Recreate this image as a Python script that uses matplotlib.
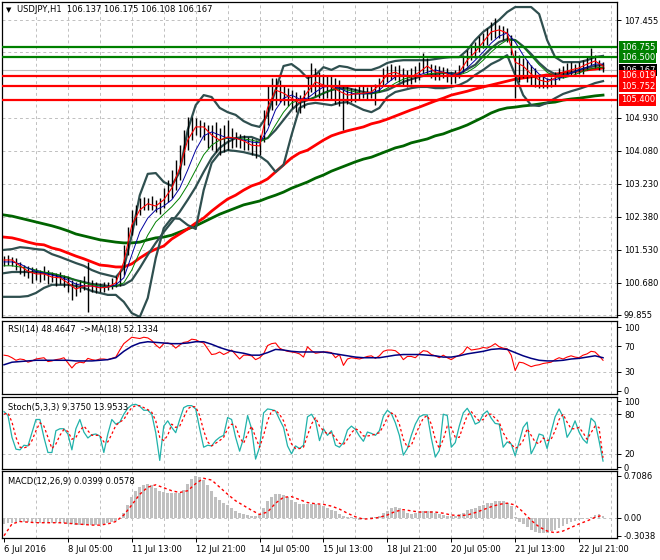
import numpy as np
import matplotlib
matplotlib.use("Agg")
import matplotlib.pyplot as plt
import matplotlib.transforms as mtransforms

# ---- price bars, one every 2 hours ----
bar_hi = [101.37, 101.40, 101.35, 101.32, 101.22, 101.14, 101.11, 101.09, 101.06, 101.01,
          101.11, 101.01, 100.96, 100.93, 100.96, 100.88, 100.86, 100.75, 100.70, 100.75,
          100.86, 101.22, 100.75, 100.70, 100.68, 100.70, 100.70, 100.81, 100.86, 101.01,
          101.66, 102.11, 102.56, 102.69, 102.87, 102.89, 102.87, 102.92, 102.82, 102.87,
          103.12, 103.33, 103.59, 103.85, 104.23, 104.62, 104.95, 104.95, 104.93, 104.88,
          104.83, 104.75, 104.75, 104.83, 104.67, 104.75, 104.88, 104.67, 104.57, 104.52,
          104.49, 104.44, 104.41, 104.36, 104.49, 105.14, 105.78, 105.96, 105.96, 105.91,
          105.78, 105.70, 105.65, 105.60, 105.52, 105.65, 106.04, 106.35, 106.22, 106.11,
          106.06, 106.04, 106.01, 105.96, 105.91, 105.78, 105.75, 105.70, 105.70, 105.75,
          105.75, 105.73, 105.75, 105.80, 105.96, 106.22, 106.27, 106.32, 106.27, 106.30,
          106.22, 106.17, 106.22, 106.27, 106.37, 106.60, 106.48, 106.32, 106.30, 106.27,
          106.24, 106.22, 106.11, 106.17, 106.30, 106.55, 106.68, 106.81, 106.89, 107.04,
          107.12, 107.25, 107.40, 107.51, 107.33, 107.30, 107.25, 107.07, 106.68, 106.55,
          106.48, 106.42, 106.30, 106.22, 106.04, 106.01, 105.96, 105.99, 106.11, 106.22,
          106.27, 106.35, 106.37, 106.32, 106.37, 106.42, 106.53, 106.73, 106.55, 106.42,
          106.37]
bar_lo = [101.11, 101.14, 101.11, 101.01, 100.91, 100.86, 100.81, 100.68, 100.75, 100.70,
          100.75, 100.65, 100.70, 100.60, 100.65, 100.57, 100.45, 100.24, 100.34, 100.45,
          100.50, 99.93, 100.45, 100.42, 100.45, 100.45, 100.50, 100.52, 100.57, 100.60,
          100.88, 101.40, 101.91, 102.17, 102.43, 102.56, 102.56, 102.56, 102.51, 102.46,
          102.61, 102.76, 102.87, 103.07, 103.33, 103.72, 104.10, 104.36, 104.49, 104.44,
          104.36, 104.16, 104.10, 104.05, 103.98, 104.05, 104.10, 104.16, 104.18, 104.16,
          104.10, 104.10, 103.98, 103.90, 103.98, 104.31, 104.75, 105.14, 105.26, 105.34,
          105.26, 105.24, 105.19, 105.08, 105.06, 105.19, 105.39, 105.60, 105.50, 105.44,
          105.39, 105.44, 105.39, 105.29, 105.24, 104.62, 105.29, 105.34, 105.34, 105.39,
          105.44, 105.39, 105.44, 105.26, 105.60, 105.78, 105.86, 105.91, 105.91, 105.86,
          105.75, 105.73, 105.80, 105.86, 105.91, 106.09, 106.01, 105.96, 105.91, 105.91,
          105.96, 105.86, 105.80, 105.83, 105.96, 106.11, 106.27, 106.42, 106.48, 106.63,
          106.73, 106.81, 106.94, 106.99, 106.99, 106.94, 106.89, 106.55, 105.44, 105.86,
          105.96, 105.86, 105.78, 105.73, 105.70, 105.70, 105.70, 105.73, 105.78, 105.91,
          105.96, 106.01, 106.04, 106.01, 106.06, 106.06, 106.17, 106.30, 106.22, 106.17,
          106.11]

# ---- main chart indicator lines, one value every 4 hours ----
ma_fast = [101.27, 101.27, 101.12, 100.98, 100.91, 100.91, 100.83, 100.81, 100.68, 100.52,
           100.60, 100.60, 100.55, 100.57, 100.68, 101.22, 102.17, 102.56, 102.72, 102.66,
           102.82, 103.12, 103.64, 104.36, 104.70, 104.70, 104.49, 104.36, 104.44, 104.41,
           104.34, 104.23, 104.21, 105.19, 105.65, 105.57, 105.44, 105.32, 105.60, 105.86,
           105.78, 105.73, 105.62, 105.52, 105.55, 105.57, 105.60, 105.78, 106.06, 106.11,
           106.01, 105.99, 106.11, 106.27, 106.11, 106.11, 106.01, 106.11, 106.42, 106.63,
           106.89, 107.15, 107.20, 107.12, 106.37, 106.27, 106.06, 105.91, 105.86, 105.96,
           106.11, 106.17, 106.22, 106.32, 106.40, 106.27]
ma_mid = [101.22, 101.22, 101.17, 101.06, 100.98, 100.93, 100.88, 100.83, 100.75, 100.65,
          100.60, 100.60, 100.57, 100.57, 100.63, 100.81, 101.40, 101.99, 102.35, 102.56,
          102.66, 102.82, 103.12, 103.59, 104.10, 104.47, 104.57, 104.49, 104.41, 104.41,
          104.36, 104.31, 104.29, 104.62, 105.14, 105.44, 105.52, 105.42, 105.44, 105.60,
          105.73, 105.75, 105.70, 105.60, 105.55, 105.55, 105.57, 105.65, 105.83, 105.99,
          106.04, 106.01, 106.04, 106.11, 106.17, 106.11, 106.06, 106.06, 106.22, 106.42,
          106.63, 106.86, 107.04, 107.12, 106.89, 106.55, 106.27, 106.06, 105.93, 105.91,
          105.99, 106.09, 106.17, 106.24, 106.32, 106.32]
ma_slow = [101.12, 101.12, 101.09, 101.06, 101.01, 100.96, 100.93, 100.88, 100.83, 100.75,
           100.68, 100.63, 100.60, 100.57, 100.60, 100.68, 101.01, 101.48, 101.91, 102.25,
           102.45, 102.64, 102.87, 103.20, 103.59, 103.98, 104.23, 104.36, 104.41, 104.41,
           104.39, 104.36, 104.31, 104.41, 104.75, 105.08, 105.32, 105.39, 105.39, 105.47,
           105.57, 105.65, 105.68, 105.65, 105.60, 105.55, 105.55, 105.60, 105.70, 105.83,
           105.93, 105.99, 106.01, 106.06, 106.09, 106.09, 106.06, 106.04, 106.11, 106.24,
           106.42, 106.63, 106.81, 106.94, 106.94, 106.76, 106.53, 106.30, 106.11, 105.99,
           105.96, 106.01, 106.09, 106.17, 106.22, 106.24]
bb_mid = [100.93, 100.96, 100.96, 100.96, 100.96, 100.93, 100.91, 100.86, 100.81, 100.75,
          100.70, 100.65, 100.63, 100.60, 100.60, 100.63, 100.75, 101.06, 101.40, 101.71,
          101.99, 102.25, 102.51, 102.82, 103.15, 103.54, 103.90, 104.16, 104.31, 104.41,
          104.44, 104.44, 104.36, 104.41, 104.62, 104.88, 105.14, 105.32, 105.39, 105.47,
          105.57, 105.65, 105.70, 105.70, 105.65, 105.60, 105.57, 105.60, 105.65, 105.75,
          105.86, 105.93, 105.99, 106.04, 106.06, 106.09, 106.09, 106.06, 106.19, 106.30,
          106.53, 106.73, 106.89, 106.96, 106.94, 106.78, 106.58, 106.35, 106.17, 106.06,
          106.04, 106.09, 106.17, 106.22, 106.27, 106.30]
bb_up = [101.53, 101.55, 101.60, 101.58, 101.55, 101.53, 101.42, 101.35, 101.27, 101.19,
         101.12, 101.01, 100.93, 100.88, 100.83, 101.06, 101.91, 102.94, 103.49, 103.51,
         103.28, 103.18, 103.54, 104.62, 105.26, 105.52, 105.47, 105.19, 105.08, 105.01,
         104.85, 104.75, 104.70, 105.01, 105.65, 106.27, 106.32, 106.17, 105.96, 106.04,
         106.24, 106.17, 106.27, 106.24, 106.17, 106.17, 106.17, 106.24, 106.35, 106.40,
         106.42, 106.42, 106.42, 106.42, 106.45, 106.48, 106.50, 106.50, 106.68, 106.94,
         107.15, 107.30, 107.46, 107.66, 107.79, 107.79, 107.79, 107.61, 106.94, 106.50,
         106.37, 106.37, 106.37, 106.42, 106.50, 106.53]
bb_low = [100.32, 100.32, 100.32, 100.34, 100.42, 100.55, 100.63, 100.63, 100.63, 100.60,
          100.55, 100.47, 100.42, 100.37, 100.37, 100.19, 99.90, 99.80, 100.29, 101.32,
          102.09, 102.35, 102.33, 102.17, 102.07, 103.07, 103.77, 104.03, 104.10, 104.08,
          104.05, 104.00, 103.95, 103.80, 103.54, 103.72, 104.49, 105.19, 105.29, 105.32,
          105.29, 105.26, 105.32, 105.34, 105.24, 105.14, 105.08, 105.19, 105.47, 105.60,
          105.65, 105.70, 105.73, 105.73, 105.70, 105.70, 105.73, 105.78, 105.88, 106.04,
          106.17, 106.32, 106.42, 106.55, 106.04, 105.52, 105.26, 105.24, 105.32, 105.44,
          105.55, 105.62, 105.68, 105.75, 105.83, 105.88]
ma_long_red = [101.86, 101.84, 101.79, 101.73, 101.68, 101.66, 101.58, 101.53, 101.45, 101.37,
               101.30, 101.22, 101.14, 101.12, 101.09, 101.09, 101.17, 101.32, 101.45, 101.55,
               101.63, 101.81, 101.94, 102.07, 102.22, 102.35, 102.53, 102.69, 102.84, 102.94,
               103.07, 103.18, 103.25, 103.36, 103.54, 103.72, 103.90, 104.03, 104.10, 104.23,
               104.36, 104.47, 104.54, 104.60, 104.65, 104.70, 104.78, 104.83, 104.90, 104.98,
               105.06, 105.14, 105.21, 105.29, 105.37, 105.44, 105.52, 105.57, 105.62, 105.68,
               105.73, 105.78, 105.83, 105.88, 105.93, 105.96, 105.99, 106.01, 106.04, 106.06,
               106.09, 106.11, 106.14, 106.17, 106.19, 106.22]
ma_long_green = [102.43, 102.40, 102.35, 102.30, 102.25, 102.20, 102.15, 102.09, 102.02, 101.94,
                 101.89, 101.84, 101.79, 101.76, 101.73, 101.71, 101.71, 101.73, 101.79, 101.84,
                 101.86, 101.91, 101.99, 102.07, 102.15, 102.25, 102.35, 102.45, 102.53, 102.61,
                 102.69, 102.74, 102.79, 102.87, 102.94, 103.02, 103.12, 103.20, 103.28, 103.38,
                 103.46, 103.56, 103.64, 103.72, 103.80, 103.87, 103.92, 104.00, 104.08, 104.16,
                 104.21, 104.29, 104.34, 104.39, 104.47, 104.52, 104.60, 104.67, 104.75, 104.85,
                 104.95, 105.06, 105.14, 105.19, 105.21, 105.24, 105.26, 105.29, 105.32, 105.34,
                 105.39, 105.42, 105.44, 105.47, 105.50, 105.52]

levels_green = [106.755, 106.500]
levels_red = [106.019, 105.752, 105.400]
last_price = 106.167

# ---- oscillators ----
rsi = [56, 55, 52, 48, 50, 49, 45, 47, 50, 51,
       52, 46, 47, 49, 50, 52, 44, 36, 43, 45,
       44, 51, 49, 48, 50, 50, 49, 51, 53, 64,
       74, 79, 84, 83, 82, 84, 83, 79, 72, 67,
       74, 75, 73, 67, 72, 76, 77, 81, 80, 77,
       75, 66, 57, 58, 61, 57, 60, 64, 57, 50,
       56, 56, 55, 49, 52, 58, 71, 74, 75, 67,
       64, 62, 61, 60, 58, 53, 69, 63, 59, 60,
       61, 61, 60, 52, 57, 40, 50, 52, 51, 50,
       52, 54, 55, 51, 55, 62, 64, 64, 63, 58,
       49, 54, 54, 52, 58, 63, 62, 57, 55, 52,
       56, 52, 49, 53, 56, 60, 69, 64, 65, 66,
       68, 67, 70, 74, 69, 67, 66, 56, 32, 45,
       44, 41, 38, 40, 41, 43, 44, 45, 49, 52,
       50, 53, 55, 53, 52, 56, 58, 62, 61, 55,
       48]
rsi_ma = [41, 45, 46, 47, 48, 48, 48, 48, 48, 47,
          47, 47, 48, 49, 52, 62, 70, 75, 77, 76,
          75, 74, 74, 75, 77, 77, 73, 68, 64, 61,
          59, 56, 56, 60, 65, 64, 62, 61, 61, 61,
          61, 59, 57, 55, 53, 52, 52, 52, 54, 56,
          57, 57, 57, 56, 55, 53, 53, 55, 58, 60,
          62, 65, 66, 65, 60, 55, 51, 48, 47, 47,
          48, 50, 51, 53, 55, 52]
stoch_k = [84, 78, 45, 27, 26, 33, 32, 52, 72, 72,
           45, 22, 22, 55, 58, 58, 50, 26, 58, 72,
           53, 44, 49, 50, 47, 22, 50, 72, 65, 68,
           80, 89, 94, 95, 92, 86, 86, 80, 52, 10,
           62, 70, 60, 52, 72, 90, 93, 93, 88, 58,
           30, 33, 32, 40, 45, 48, 75, 72, 45, 24,
           44, 78, 58, 12, 30, 82, 88, 87, 85, 72,
           60, 32, 20, 32, 28, 33, 76, 80, 70, 40,
           58, 48, 55, 33, 30, 37, 56, 62, 57, 47,
           39, 53, 51, 48, 55, 77, 86, 81, 67, 48,
           18, 28, 48, 65, 76, 79, 79, 44, 15, 25,
           80, 78, 30, 37, 62, 82, 89, 79, 65, 68,
           80, 85, 74, 66, 65, 30, 38, 35, 17, 38,
           60, 68, 20, 32, 50, 48, 28, 53, 76, 88,
           76, 45, 55, 70, 53, 42, 36, 74, 68, 40,
           9]
stoch_d = [80, 82, 68, 45, 30, 29, 31, 40, 55, 67,
           62, 45, 28, 35, 48, 57, 54, 42, 45, 55,
           62, 55, 48, 48, 48, 38, 38, 50, 63, 68,
           72, 82, 90, 93, 93, 90, 87, 83, 70, 45,
           40, 48, 65, 60, 62, 75, 88, 92, 91, 78,
           55, 38, 32, 36, 40, 45, 58, 65, 62, 45,
           36, 50, 62, 45, 30, 48, 70, 85, 86, 80,
           70, 52, 35, 28, 28, 30, 48, 65, 75, 62,
           55, 50, 52, 44, 36, 34, 42, 52, 58, 55,
           47, 47, 48, 50, 52, 62, 75, 82, 78, 65,
           42, 30, 33, 48, 62, 74, 78, 65, 42, 28,
           42, 62, 60, 45, 45, 62, 78, 84, 76, 70,
           72, 80, 80, 74, 68, 52, 42, 35, 28, 32,
           40, 58, 48, 38, 35, 44, 40, 42, 55, 72,
           80, 68, 58, 58, 60, 52, 42, 52, 62, 60,
           14]
macd_hist = [-0.10, -0.09, -0.08, -0.07, -0.07, -0.07, -0.07, -0.08, -0.08, -0.08,
             -0.08, -0.08, -0.08, -0.08, -0.09, -0.09, -0.10, -0.11, -0.12, -0.12,
             -0.12, -0.11, -0.12, -0.12, -0.11, -0.10, -0.08, -0.07, -0.05, 0.00,
             0.08, 0.22, 0.35, 0.45, 0.52, 0.56, 0.57, 0.55, 0.50, 0.46,
             0.44, 0.43, 0.42, 0.42, 0.43, 0.48, 0.57, 0.66, 0.71, 0.70,
             0.64, 0.55, 0.45, 0.36, 0.30, 0.25, 0.22, 0.17, 0.12, 0.09,
             0.07, 0.05, 0.04, 0.03, 0.06, 0.16, 0.28, 0.36, 0.40, 0.41,
             0.39, 0.35, 0.30, 0.27, 0.24, 0.23, 0.24, 0.24, 0.23, 0.22,
             0.21, 0.17, 0.14, 0.11, 0.07, 0.04, 0.02, 0.01, -0.01, -0.03,
             -0.02, 0.00, 0.01, 0.02, 0.04, 0.08, 0.12, 0.16, 0.18, 0.16,
             0.12, 0.08, 0.06, 0.08, 0.11, 0.12, 0.12, 0.11, 0.09, 0.07,
             0.05, 0.04, 0.03, 0.04, 0.06, 0.09, 0.13, 0.15, 0.17, 0.20,
             0.22, 0.25, 0.26, 0.28, 0.29, 0.29, 0.26, 0.20, 0.02, -0.07,
             -0.11, -0.16, -0.20, -0.24, -0.26, -0.26, -0.25, -0.22, -0.20, -0.17,
             -0.13, -0.10, -0.07, -0.05, -0.04, -0.02, -0.01, 0.02, 0.05, 0.06,
             0.04]
macd_sig = [-0.30, -0.10, -0.06, -0.07, -0.08, -0.08, -0.08, -0.08, -0.09, -0.10,
            -0.11, -0.12, -0.12, -0.10, -0.06, 0.05, 0.22, 0.40, 0.52, 0.56,
            0.51, 0.46, 0.43, 0.46, 0.58, 0.67, 0.64, 0.52, 0.40, 0.29,
            0.21, 0.13, 0.06, 0.10, 0.25, 0.35, 0.36, 0.31, 0.26, 0.24,
            0.23, 0.20, 0.15, 0.08, 0.02, -0.02, -0.01, 0.01, 0.05, 0.11,
            0.14, 0.12, 0.10, 0.10, 0.10, 0.08, 0.05, 0.04, 0.05, 0.09,
            0.14, 0.19, 0.23, 0.25, 0.22, 0.10, -0.04, -0.15, -0.22, -0.25,
            -0.22, -0.16, -0.10, -0.05, 0.01, 0.05]

date_labels = ["6 Jul 2016", "8 Jul 05:00", "11 Jul 13:00", "12 Jul 21:00", "14 Jul 05:00",
               "15 Jul 13:00", "18 Jul 21:00", "20 Jul 05:00", "21 Jul 13:00", "22 Jul 21:00"]
date_pos = [0, 32, 64, 96, 128, 160, 192, 224, 256, 288]
price_ticks = [107.455, 104.930, 104.080, 103.230, 102.380, 101.530, 100.680, 99.855]
price_grid = [107.455, 106.630, 105.780, 104.930, 104.080, 103.230, 102.380, 101.530, 100.680, 99.855]

t_bar = np.arange(len(bar_hi)) * 2
t_line = np.arange(len(ma_fast)) * 4
t_osc = np.arange(len(rsi)) * 2
t_slow = np.arange(len(rsi_ma)) * 4

W, H = 660, 560
fig = plt.figure(figsize=(6.6, 5.6), dpi=100)
fig.patch.set_facecolor("white")


def panel(top, bottom):
    return fig.add_axes([2 / W, 1 - bottom / H, 615 / W, (bottom - top) / H])


ax = panel(2, 317)
ax_rsi = panel(321, 394)
ax_st = panel(397, 469)
ax_md = panel(471, 538)

grid_kw = dict(color="#c0c0c0", lw=0.7, ls=(0, (3, 3)), zorder=0)
for a in (ax, ax_rsi, ax_st, ax_md):
    a.set_xlim(-1, 307)
    for g in range(16, 307, 16):
        a.axvline(g, **grid_kw)
    for s in a.spines.values():
        s.set_color("black")
        s.set_linewidth(0.9)
    a.yaxis.tick_right()
    a.tick_params(axis="y", length=3, width=0.7, labelsize=6, pad=2, colors="black")
    a.set_xticks([])

# ---- main chart ----
ax.set_ylim(99.80, 107.92)
for g in price_grid:
    ax.axhline(g, **grid_kw)
ax.axhline(last_price, color="#c0c0c0", lw=0.8, zorder=1)
ax.plot(t_line, ma_long_green, color="#006400", lw=2.0, zorder=2)
ax.plot(t_line, ma_long_red, color="#ff0000", lw=2.0, zorder=2)
for band in (bb_up, bb_mid, bb_low):
    ax.plot(t_line, band, color="#2f4f4f", lw=1.6, zorder=3)
ax.vlines(t_bar, bar_lo, bar_hi, color="black", lw=1.0, zorder=4)
ax.plot(t_line, ma_slow, color="#008000", lw=0.7, zorder=5)
ax.plot(t_line, ma_mid, color="#0000a0", lw=0.7, zorder=5)
ax.plot(t_line, ma_fast, color="#ff0000", lw=0.8, zorder=5)
for lv in levels_green:
    ax.axhline(lv, color="#008000", lw=1.6, zorder=6)
for lv in levels_red:
    ax.axhline(lv, color="#ff0000", lw=1.6, zorder=6)
ax.set_yticks(price_ticks)
ax.set_yticklabels([f"{v:.3f}" for v in price_ticks])

# price boxes on the right scale (the last-price box sits partly under the 106.019 box)
trans = mtransforms.blended_transform_factory(ax.transAxes, ax.transData)
box_kw = dict(transform=trans, fontsize=6, va="center", ha="left", color="white", clip_on=False)
ax.text(1.006, last_price, f"{last_price:.3f}", zorder=7,
        bbox=dict(boxstyle="square,pad=0.18", fc="black", ec="none"), **box_kw)
for lv in levels_green:
    ax.text(1.006, lv, f"{lv:.3f}", zorder=8,
            bbox=dict(boxstyle="square,pad=0.18", fc="#008000", ec="none"), **box_kw)
for lv in levels_red:
    ax.text(1.006, lv, f"{lv:.3f}", zorder=8,
            bbox=dict(boxstyle="square,pad=0.18", fc="#ff0000", ec="none"), **box_kw)

fig.text(6 / W, 1 - 10 / H, "\u25bc", fontsize=5, va="center", color="black")
fig.text(17 / W, 1 - 10 / H, "USDJPY,H1  106.137 106.175 106.108 106.167", fontsize=6,
         va="center", color="black")

# ---- RSI ----
ax_rsi.set_ylim(-4.7, 109.4)
for g in (70, 30):
    ax_rsi.axhline(g, **grid_kw)
ax_rsi.plot(t_osc, rsi, color="#ff0000", lw=0.8, zorder=3)
ax_rsi.plot(t_slow, rsi_ma, color="#000080", lw=1.1, zorder=4)
ax_rsi.set_yticks([100, 70, 30, 0])
ax_rsi.text(0.01, 0.88, "RSI(14) 48.4647  ->MA(18) 52.1334", transform=ax_rsi.transAxes,
            fontsize=6, va="center", zorder=6)

# ---- Stochastic ----
ax_st.set_ylim(-3.0, 106.1)
for g in (80, 20):
    ax_st.axhline(g, **grid_kw)
ax_st.plot(t_osc, stoch_k, color="#20b2aa", lw=0.9, zorder=3)
ax_st.plot(t_osc, stoch_d, color="#ff0000", lw=0.9, ls=(0, (2, 2)), zorder=4)
ax_st.set_yticks([100, 80, 20, 0])
ax_st.text(0.01, 0.85, "Stoch(5,3,3) 9.3750 13.9533", transform=ax_st.transAxes,
           fontsize=6, va="center", zorder=6)

# ---- MACD ----
ax_md.set_ylim(-0.338, 0.793)
ax_md.axhline(0, **grid_kw)
ax_md.bar(t_osc, macd_hist, width=1.4, color="#c0c0c0", zorder=2)
ax_md.plot(t_slow, macd_sig, color="#ff0000", lw=1.0, ls=(0, (2, 2)), zorder=3)
ax_md.set_yticks([0.7086, 0.0, -0.3038])
ax_md.set_yticklabels(["0.7086", "0.00", "-0.3038"])
ax_md.text(0.01, 0.85, "MACD(12,26,9) 0.0399 0.0578", transform=ax_md.transAxes,
           fontsize=6, va="center", zorder=6)
ax_md.set_xticks(date_pos)
ax_md.set_xticklabels(date_labels)
ax_md.tick_params(axis="x", length=3, width=0.7, labelsize=6, pad=2)
for lbl in ax_md.get_xticklabels():
    lbl.set_ha("left")

fig.savefig("out.png", dpi=100, facecolor="white")
